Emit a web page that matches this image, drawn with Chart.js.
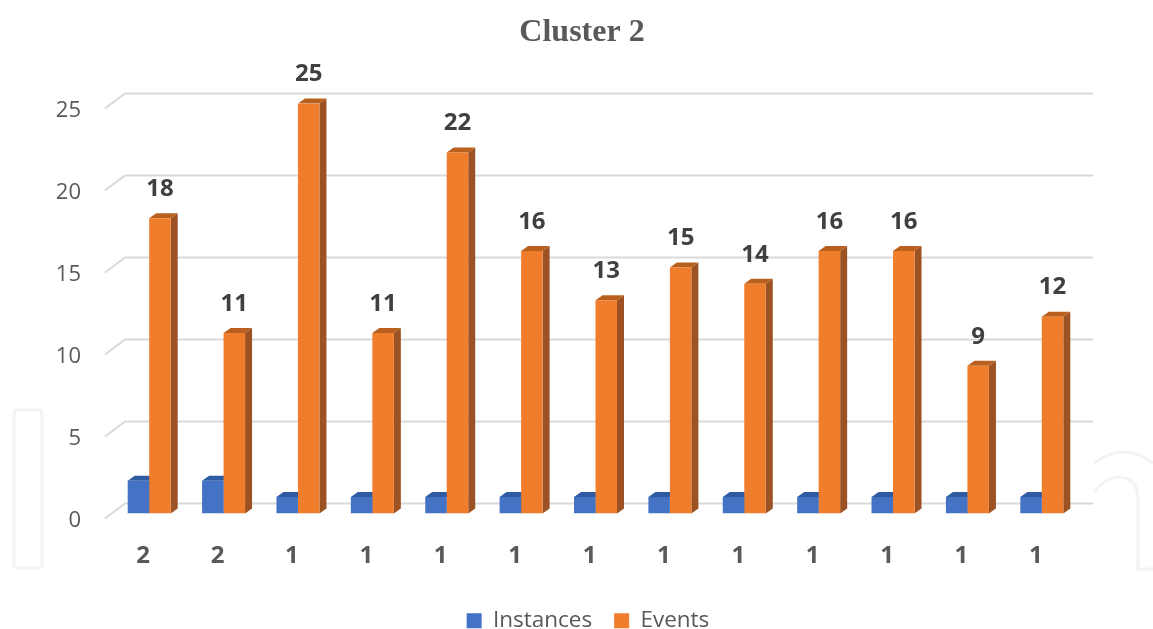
<!DOCTYPE html>
<html>
<head>
<meta charset="utf-8">
<title>Cluster 2</title>
<script src="https://cdn.jsdelivr.net/npm/chart.js@4/dist/chart.umd.min.js"></script>
<style>
  html, body { margin: 0; padding: 0; background: #fff; }
  canvas { display: block; }
</style>
</head>
<body>
<canvas id="chart" width="1153" height="629"></canvas>
<script>
// values
const categories = ['2', '2', '1', '1', '1', '1', '1', '1', '1', '1', '1', '1', '1'];
const instances = [2, 2, 1, 1, 1, 1, 1, 1, 1, 1, 1, 1, 1];
const events = [18, 11, 25, 11, 22, 16, 13, 15, 14, 16, 16, 9, 12];

const textColor = '#595959';
const fontFamily = '"Open Sans", sans-serif';

// fake 3D faces, the fronts are the normal bars
const sideColors = ['#2f5597', '#9c5222'];
const topColors = ['#2f5ba3', '#b9601f'];
const barDepthX = 7;
const barDepthY = 5;

function face(ctx, color, pts) {
    ctx.fillStyle = color;
    ctx.beginPath();
    pts.forEach((p, i) => i ? ctx.lineTo(p[0], p[1]) : ctx.moveTo(p[0], p[1]));
    ctx.closePath();
    ctx.fill();
}

// faint watermark shapes behind the chart
const watermarkPlugin = {
    id: 'watermark',
    beforeDraw(chart) {
        const ctx = chart.ctx;
        ctx.save();
        ctx.strokeStyle = '#f1f3f4';
        ctx.lineWidth = 3;
        ctx.beginPath();
        ctx.roundRect(14, 410, 28, 158, 3);
        ctx.stroke();
        ctx.beginPath();
        ctx.moveTo(1094, 463);
        ctx.quadraticCurveTo(1124, 441, 1153, 463);
        ctx.stroke();
        ctx.beginPath();
        ctx.moveTo(1094, 492);
        ctx.quadraticCurveTo(1106, 477, 1118, 477);
        ctx.quadraticCurveTo(1138, 477, 1138, 500);
        ctx.lineTo(1138, 569);
        ctx.lineTo(1153, 569);
        ctx.stroke();
        ctx.restore();
    }
};

// back wall grid plus side and top faces of the bars
const depthPlugin = {
    id: 'depth',
    beforeDatasetsDraw(chart) {
        const ctx = chart.ctx;
        const area = chart.chartArea;
        const y = chart.scales.y;
        ctx.save();
        ctx.strokeStyle = '#d9d9d9';
        ctx.lineWidth = 2;
        y.ticks.forEach(t => {
            const py = y.getPixelForValue(t.value);
            ctx.beginPath();
            ctx.moveTo(area.left - 7, py + 5);
            ctx.lineTo(area.left + 13, py - 10);
            ctx.lineTo(area.right + 14, py - 10);
            ctx.stroke();
        });
        chart.data.datasets.forEach((ds, i) => {
            chart.getDatasetMeta(i).data.forEach(bar => {
                const left = bar.x - bar.width / 2;
                const right = bar.x + bar.width / 2;
                face(ctx, sideColors[i], [
                    [right, bar.base], [right + barDepthX, bar.base - barDepthY],
                    [right + barDepthX, bar.y - barDepthY], [right, bar.y]
                ]);
                face(ctx, topColors[i], [
                    [left, bar.y], [left + barDepthX, bar.y - barDepthY],
                    [right + barDepthX, bar.y - barDepthY], [right, bar.y]
                ]);
            });
        });
        ctx.restore();
    }
};

// value labels over the orange bars
const valueLabelPlugin = {
    id: 'valueLabels',
    afterDatasetsDraw(chart) {
        const ctx = chart.ctx;
        ctx.save();
        ctx.fillStyle = '#404040';
        ctx.font = 'bold 24px ' + fontFamily;
        ctx.textAlign = 'center';
        ctx.textBaseline = 'middle';
        chart.getDatasetMeta(1).data.forEach((bar, i) => {
            ctx.fillText(events[i], bar.x, bar.y - 29);
        });
        ctx.restore();
    }
};

// title and legend are not centred on the page in the original
const boxShiftPlugin = {
    id: 'boxShift',
    afterLayout(chart) {
        chart.titleBlock.left += 37;
        chart.titleBlock.right += 37;
        chart.legend.left += 43;
        chart.legend.right += 43;
        chart.legend.top += 13;
        chart.legend.bottom += 13;
    }
};

new Chart(document.getElementById('chart'), {
    type: 'bar',
    data: {
        labels: categories,
        datasets: [
            { label: 'Instances', data: instances, backgroundColor: '#4472c4', borderWidth: 0 },
            { label: 'Events', data: events, backgroundColor: '#f07d2c', borderWidth: 0 }
        ]
    },
    options: {
        responsive: false,
        animation: false,
        categoryPercentage: 0.578,
        barPercentage: 1,
        layout: { padding: { left: 11, right: 74, top: 14, bottom: 0 } },
        scales: {
            x: {
                grid: { display: false },
                border: { display: false },
                afterFit: scale => { scale.height = 61; },
                ticks: {
                    color: textColor,
                    font: { family: fontFamily, size: 24, weight: 'bold' },
                    labelOffset: -6,
                    padding: 20,
                    autoSkip: false,
                    maxRotation: 0
                }
            },
            y: {
                min: 0,
                max: 25,
                grid: { display: false, drawTicks: false },
                border: { display: false },
                afterFit: scale => { scale.width = 101; },
                ticks: {
                    stepSize: 5,
                    color: textColor,
                    font: { family: fontFamily, size: 22 },
                    labelOffset: 7,
                    padding: 31
                }
            }
        },
        plugins: {
            title: {
                display: true,
                text: 'Cluster 2',
                color: textColor,
                font: { family: '"Liberation Serif", serif', size: 32, weight: 'bold' },
                padding: { top: 0, bottom: 51 }
            },
            legend: {
                position: 'bottom',
                labels: {
                    color: textColor,
                    font: { family: fontFamily, size: 22.5 },
                    boxWidth: 15,
                    boxHeight: 15,
                    padding: 22
                }
            },
            tooltip: { enabled: false }
        }
    },
    plugins: [watermarkPlugin, depthPlugin, valueLabelPlugin, boxShiftPlugin]
});
</script>
</body>
</html>
